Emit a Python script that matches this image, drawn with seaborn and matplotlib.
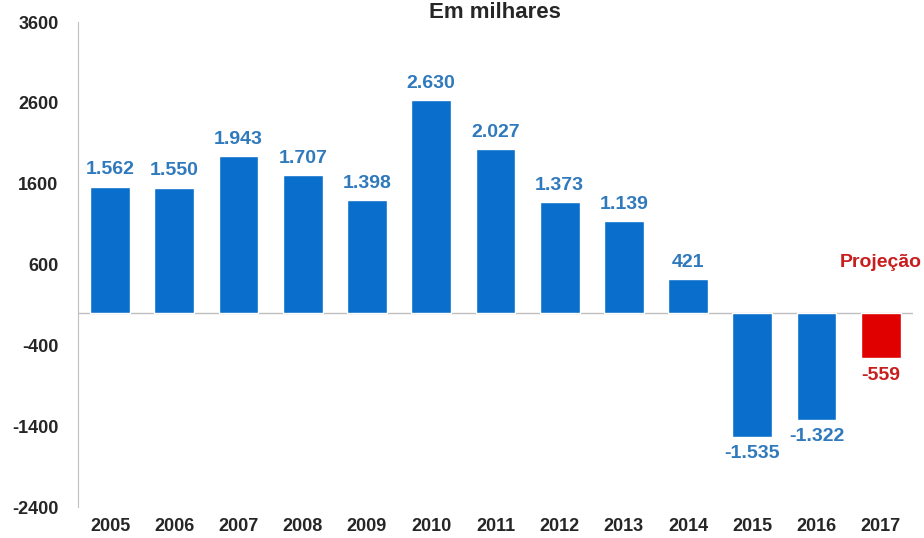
import matplotlib
matplotlib.use("Agg")
import matplotlib.pyplot as plt
import seaborn as sns
import pandas as pd

years = ["2005", "2006", "2007", "2008", "2009", "2010", "2011",
         "2012", "2013", "2014", "2015", "2016", "2017"]
values = [1562, 1550, 1943, 1707, 1398, 2630, 2027,
          1373, 1139, 421, -1535, -1322, -559]
y_ticks = [3600, 2600, 1600, 600, -400, -1400, -2400]

BLUE = "#0A6FCC"
BLUE_TXT = "#2F79BD"
RED = "#E00000"
RED_TXT = "#C81E1E"
GRID = "#BFBFBF"

df = pd.DataFrame({"ano": years, "valor": values})
colors = [BLUE] * (len(years) - 1) + [RED]

sns.set_style("white")
plt.rcParams["font.family"] = ["Liberation Sans", "DejaVu Sans"]

fig = plt.figure(figsize=(9.24, 5.38), dpi=100)
ax = fig.add_axes([0.0844, 0.0576, 0.9036, 0.9014])

sns.barplot(data=df, x="ano", y="valor", hue="ano", palette=colors,
            legend=False, width=0.62, saturation=1, ax=ax)

ax.set_ylim(-2400, 3600)
ax.set_xlim(-0.5, len(years) - 0.5)
ax.set_yticks(y_ticks)
ax.set_yticklabels([str(t) for t in y_ticks], fontsize=13, fontweight="bold")
ax.set_xticks(range(len(years)))
ax.set_xticklabels(years, fontsize=13, fontweight="bold")
ax.set_xlabel("")
ax.set_ylabel("")
ax.tick_params(axis="y", length=5, color=GRID, pad=9)
ax.tick_params(axis="x", length=0, pad=8)

for side in ["top", "right", "bottom"]:
    ax.spines[side].set_visible(False)
ax.spines["left"].set_color(GRID)
ax.axhline(0, color=GRID, lw=1, zorder=0)

# rótulos de valor
for i, v in enumerate(values):
    txt = f"{v:,}".replace(",", ".")
    c = RED_TXT if i == len(values) - 1 else BLUE_TXT
    if v >= 0:
        ax.annotate(txt, (i, v), xytext=(0, 6), textcoords="offset points",
                    ha="center", va="bottom", fontsize=14, fontweight="bold", color=c)
    else:
        ax.annotate(txt, (i, v), xytext=(0, -6), textcoords="offset points",
                    ha="center", va="top", fontsize=14, fontweight="bold", color=c)

ax.text(len(years) - 1, 620, "Projeção", ha="center", va="center",
        fontsize=14, fontweight="bold", color=RED_TXT)

fig.text(0.536, 0.997, "Em milhares", ha="center", va="top",
         fontsize=16, fontweight="bold")

fig.savefig("out.png", dpi=100)
plt.close(fig)
